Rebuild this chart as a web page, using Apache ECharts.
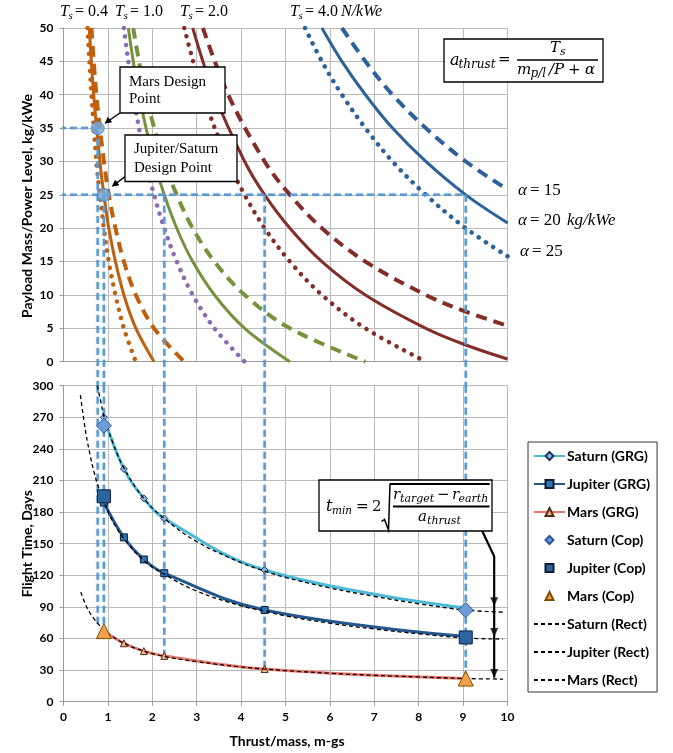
<!DOCTYPE html>
<html><head><meta charset="utf-8">
<script src="https://cdn.jsdelivr.net/npm/echarts@6/dist/echarts.min.js"></script>
<style>html,body{margin:0;padding:0;background:#fff}#c{width:673px;height:753px}</style>
</head><body><div id="c"></div><script>
// ---------- Top panel: payload mass / power level vs thrust/mass ----------
// [thrust/mass (m-gs), payload mass/power (kg/kWe)]
const ts04_a15 = [[0.63,50],[0.74,40],[0.91,30],[1.02,25],[1.17,20],[1.36,15],[1.63,10],[2.04,5],[2.72,0]];
const ts04_a20 = [[0.58,50],[0.68,40],[0.82,30],[0.91,25],[1.02,20],[1.17,15],[1.36,10],[1.63,5],[2.04,0]];
const ts04_a25 = [[0.54,50],[0.63,40],[0.74,30],[0.82,25],[0.91,20],[1.02,15],[1.17,10],[1.36,5],[1.63,0]];
const ts10_a15 = [[1.57,50],[1.85,40],[2.27,30],[2.55,25],[2.91,20],[3.40,15],[4.08,10],[5.10,5],[6.80,0]];
const ts10_a20 = [[1.46,50],[1.70,40],[2.04,30],[2.27,25],[2.55,20],[2.91,15],[3.40,10],[4.08,5],[5.10,0]];
const ts10_a25 = [[1.36,50],[1.57,40],[1.85,30],[2.04,25],[2.27,20],[2.55,15],[2.91,10],[3.40,5],[4.08,0]];
const ts20_a15 = [[3.14,50],[3.71,40],[4.53,30],[5.10,25],[5.82,20],[6.80,15],[8.16,10],[9.06,7.5],[10,5.4]];
const ts20_a20 = [[2.91,50],[3.40,40],[4.08,30],[4.53,25],[5.10,20],[5.82,15],[6.80,10],[8.16,5],[9.06,2.5],[10,0.4]];
const ts20_a25 = [[2.72,50],[3.14,40],[3.71,30],[4.08,25],[4.53,20],[5.10,15],[5.82,10],[6.80,5],[8.16,0]];
const ts40_a15 = [[6.27,50],[6.80,45],[7.41,40],[8.16,35],[9.06,30],[10,25.8]];
const ts40_a20 = [[5.82,50],[6.27,45],[6.80,40],[7.41,35],[8.16,30],[9.06,25],[10,20.8]];
const ts40_a25 = [[5.44,50],[5.82,45],[6.27,40],[6.80,35],[7.41,30],[8.16,25],[9.06,20],[10,15.8]];

// design points & guide lines
const designPoints = [[0.77,35],[0.91,25]];
const guideX = [0.77, 0.91, 2.27, 4.53, 9.06];
const guideTopY = [35, 25, 25, 25, 25];
const guideBottomY = [73, 67, 43.5, 31, 22];
const guideH35 = [[-0.1,35],[0.77,35]];
const guideH25 = [[-0.1,25],[9.06,25]];

// ---------- Bottom panel: flight time (days) ----------
const saturnGRG  = [[0.91,270],[1.36,221],[1.81,193],[2.27,174],[4.53,125],[9.06,89]];
const jupiterGRG = [[0.91,189],[1.36,156],[1.81,135],[2.27,122],[4.53,87],[9.06,62]];
const marsGRG    = [[0.91,67],[1.36,55.5],[1.81,48],[2.27,43.5],[4.53,31],[9.06,22]];
const saturnCop  = [[0.91,262],[9.06,87]];
const jupiterCop = [[0.91,195],[9.06,61]];
const marsCop    = [[0.91,67],[9.06,22]];
const saturnRect  = [[0.76,300],[0.85,283],[0.91,271],[1.1,247],[1.36,222],[1.81,193],[2.27,174],[3,152],[4,132],[4.53,124],[5,118],[6,108],[7,100],[8,93],[9.06,87],[9.9,85]];
const jupiterRect = [[0.38,291],[0.5,256],[0.6,234],[0.7,216],[0.8,202],[0.91,190],[1.1,172],[1.36,155],[1.81,134],[2.27,121],[3,105],[4,91],[4.53,86],[5,81.5],[6,74.5],[7,69],[8,64.5],[9.06,60.5],[9.9,59.5]];
const marsRect    = [[0.39,104],[0.5,92],[0.6,84],[0.7,78],[0.8,73],[0.91,68],[1.1,62],[1.36,55.5],[1.81,48],[2.27,43],[3,38],[4,33],[4.53,31],[5,29.5],[6,27],[7,25],[8,23.5],[9.06,22],[9.9,21.5]];
const arrowLine = [[9.42,163],[9.70,138],[9.70,23]];
const arrowTips = [[9.70,90.5],[9.70,61.5],[9.70,22.5]];

const xTicks = [0,1,2,3,4,5,6,7,8,9,10];
const legendNames = ['Saturn (GRG)','Jupiter (GRG)','Mars (GRG)','Saturn (Cop)','Jupiter (Cop)','Mars (Cop)','Saturn (Rect)','Jupiter (Rect)','Mars (Rect)'];

// ---------- styling ----------
const C_OR = '#C0600E', C_GR = '#76923C', C_PU = '#8A6DB0', C_BR = '#832D29', C_BL = '#2C6199', C_GUIDE = '#5B9BD5';
const LS = {
  solid:  {type:'solid', width:3},
  dashed: {type:[11,7], width:4},
  dotted: {type:[0.1,8.5], width:4.5, cap:'round'}
};
function curve(name, data, color, st){
  return {name, type:'line', xAxisIndex:0, yAxisIndex:0, data, smooth:0.35, symbol:'none',
    lineStyle:Object.assign({color}, LS[st]), z:2, silent:true, animation:false};
}
function guide(name, data, grid, clip){
  return {name, type:'line', xAxisIndex:grid, yAxisIndex:grid, data, symbol:'none', clip:clip,
    lineStyle:{color:C_GUIDE, width:2.5, type:[7,4], shadowColor:'rgba(80,120,170,0.35)', shadowBlur:2},
    z:4, silent:true, animation:false};
}
const series = [
  curve('ts04_a15', ts04_a15, C_OR, 'dashed'),
  curve('ts04_a20', ts04_a20, C_OR, 'solid'),
  curve('ts04_a25', ts04_a25, C_OR, 'dotted'),
  curve('ts10_a15', ts10_a15, C_GR, 'dashed'),
  curve('ts10_a20', ts10_a20, C_GR, 'solid'),
  curve('ts10_a25', ts10_a25, C_PU, 'dotted'),
  curve('ts20_a15', ts20_a15, C_BR, 'dashed'),
  curve('ts20_a20', ts20_a20, C_BR, 'solid'),
  curve('ts20_a25', ts20_a25, C_BR, 'dotted'),
  curve('ts40_a15', ts40_a15, C_BL, 'dashed'),
  curve('ts40_a20', ts40_a20, C_BL, 'solid'),
  curve('ts40_a25', ts40_a25, C_BL, 'dotted'),
  guide('h35', guideH35, 0, false),
  guide('h25', guideH25, 0, false)
];
guideX.forEach((gx,i)=>{
  series.push(guide('vt'+i, [[gx,guideTopY[i]],[gx,-3.7]], 0, false));
  series.push(guide('vb'+i, [[gx,300],[gx,guideBottomY[i]]], 1, true));
});
series.push({name:'design', type:'scatter', xAxisIndex:0, yAxisIndex:0, data:designPoints, symbolSize:13,
  itemStyle:{color:'#72A9DE', borderColor:'#4A7EBB', borderWidth:1}, z:8, silent:true});

function grg(name, data, lineColor, sym, fill, border){
  return {name, type:'line', xAxisIndex:1, yAxisIndex:1, data, smooth:0.4, symbol:sym, symbolSize:7,
    showAllSymbol:true, lineStyle:{color:lineColor, width:3},
    itemStyle:{color:fill, borderColor:border, borderWidth:1}, z:5, animation:false};
}
// Cop points: line series with an invisible line, so the legend icon is a centred symbol
function cop(name, data, sym, size, fill, border){
  return {name, type:'line', xAxisIndex:1, yAxisIndex:1, data, symbol:sym, symbolSize:size, showAllSymbol:true,
    lineStyle:{width:0, opacity:0}, itemStyle:{color:fill, borderColor:border, borderWidth:1}, z:7, animation:false};
}
function rect(name, data){
  return {name, type:'line', xAxisIndex:1, yAxisIndex:1, data, smooth:0.4, symbol:'none',
    lineStyle:{color:'#000', width:1.3, type:[4,3]}, itemStyle:{color:'rgba(0,0,0,0)', borderWidth:0}, z:6, animation:false};
}
series.push(
  grg('Saturn (GRG)', saturnGRG, '#4CB9D6', 'diamond', '#8DB4E2', '#1F3864'),
  grg('Jupiter (GRG)', jupiterGRG, '#25578F', 'rect', '#2E75B6', '#0B1A33'),
  grg('Mars (GRG)', marsGRG, '#E8786C', 'triangle', '#F4B183', '#5A2A1A'),
  cop('Saturn (Cop)', saturnCop, 'diamond', 15, '#6A9FD9', '#2F5597'),
  cop('Jupiter (Cop)', jupiterCop, 'rect', 13, '#2E64A2', '#0D1F3C'),
  cop('Mars (Cop)', marsCop, 'triangle', 15, '#F5A04A', '#7F4F00'),
  rect('Saturn (Rect)', saturnRect),
  rect('Jupiter (Rect)', jupiterRect),
  rect('Mars (Rect)', marsRect),
  {name:'arrow', type:'line', xAxisIndex:1, yAxisIndex:1, data:arrowLine, symbol:'none',
    lineStyle:{color:'#000', width:2.2}, z:9, silent:true, animation:false},
  {name:'arrowTips', type:'scatter', xAxisIndex:1, yAxisIndex:1, data:arrowTips,
    symbol:'path://M0,0L10,0L5,10Z', symbolSize:[8,9], symbolOffset:[0,'-50%'],
    itemStyle:{color:'#000'}, z:9, silent:true}
);

const lab = {fontFamily:'Lato', fontWeight:'bold', fontSize:12, color:'#000'};
const axisLine = {show:true, lineStyle:{color:'#9A9A9A', width:1}};
const split = {show:true, lineStyle:{color:'#BBBBBB', width:1}};

// ---------- graphic annotations ----------
const SERIF = '"Liberation Serif", "DejaVu Serif", serif';
const MATH = '"DejaVu Serif", serif';
const g = [];
function t(x, y, text, size, italic, fam){
  g.push({type:'text', x, y, z:100, silent:true, style:{text, font:(italic?'italic ':'')+size+'px '+(fam||SERIF),
    fill:'#000', align:'left', textAlign:'left', verticalAlign:'middle', textVerticalAlign:'middle'}});
}
function m(x, y, text, size, italic){ t(x, y, text, size, italic, MATH); }
function box(x,y,w,h){ g.push({type:'rect', z:99, silent:true, shape:{x,y,width:w,height:h}, style:{fill:'#fff', stroke:'#000', lineWidth:1.3}}); }
function ln(pts, w){ g.push({type:'polyline', z:101, silent:true, shape:{points:pts}, style:{stroke:'#000', lineWidth:w, fill:null}}); }
function tri(pts){ g.push({type:'polygon', z:101, silent:true, shape:{points:pts}, style:{fill:'#000'}}); }

// Ts labels at top
[[60,'0.4'],[115,'1.0'],[180,'2.0'],[290,'4.0']].forEach(([x,v])=>{
  t(x, 12, 'T', 16, true); t(x+8.5, 16, 's', 11, true); t(x+15, 12, '= '+v, 16, false);
});
t(341, 12, 'N/kWe', 16, true);
// alpha labels
t(518, 191, 'α', 17, true); t(530, 191, '= 15', 17, false);
t(518, 221, 'α', 17, true); t(530, 221, '= 20', 17, false); t(567, 221, 'kg/kWe', 17, true);
t(520, 252, 'α', 17, true); t(532, 252, '= 25', 17, false);
// formula a_thrust
box(444, 39, 159, 43);
m(450, 61, 'a', 16, true); m(458.5, 65, 'thrust', 12, true); m(498, 60, '=', 15, false);
ln([[517,60],[598,60]], 1.6);
m(550, 48, 'T', 15, true); m(560, 52, 's', 11, true);
m(517, 70, 'm', 15, true); m(530.5, 74, 'p/l', 12, true); m(549, 70, '/P', 15, true); m(568, 70, '+', 15, false); m(585, 70, 'α', 15, true);
// design point boxes
box(120, 67, 105, 46); t(129, 82, 'Mars Design', 15, false); t(129, 99.5, 'Point', 15, false);
ln([[120,113],[109,120.5]], 1.5); tri([[104.5,123.8],[112.1,122.3],[107.9,116.7]]);
box(125, 135, 112, 46.5); t(134, 149.5, 'Jupiter/Saturn', 15, false); t(134, 168, 'Design Point', 15, false);
ln([[125,176.7],[116.5,183]], 1.5); tri([[111.7,186.7],[119.4,185.3],[115.2,179.7]]);
// formula t_min
box(319, 480, 173, 51);
m(326, 507, 't', 16, true); m(332, 511, 'min', 10.5, true); m(356, 507, '=', 15, false); m(372, 507, '2', 15, false);
ln([[381.5,521.5],[384.5,519.5],[388.5,530],[390,484],[489.5,484]], 1.5);
ln([[390,484],[489.5,484]], 2.2);
m(393, 495, 'r', 15, true); m(400, 499, 'target', 11, true); m(437, 495, '−', 15, false);
m(452, 495, 'r', 15, true); m(458.5, 499, 'earth', 11, true);
ln([[393,506.5],[489.5,506.5]], 2);
m(418, 517, 'a', 15, true); m(427, 521, 'thrust', 11, true);
// axis titles
const TF = 'bold 14px Lato, "Open Sans", sans-serif';
g.push({type:'text', x:27, y:206, rotation:Math.PI/2, z:100, silent:true, style:{text:'Payload Mass/Power Level, kg/kWe', font:TF, fill:'#000', align:'center', textAlign:'center', verticalAlign:'middle', textVerticalAlign:'middle'}});
g.push({type:'text', x:27, y:543.7, rotation:Math.PI/2, z:100, silent:true, style:{text:'Flight Time, Days', font:TF, fill:'#000', align:'center', textAlign:'center', verticalAlign:'middle', textVerticalAlign:'middle'}});
g.push({type:'text', x:287, y:741, z:100, silent:true, style:{text:'Thrust/mass, m-gs', font:TF, fill:'#000', align:'center', textAlign:'center', verticalAlign:'middle', textVerticalAlign:'middle'}});

const chart = echarts.init(document.getElementById('c'), null, {renderer:'canvas'});
chart.setOption({
  animation:false,
  backgroundColor:'#fff',
  grid:[{left:63.5, top:28, width:444, height:333.7}, {left:63.5, top:385.7, width:444, height:316}],
  xAxis:[
    {gridIndex:0, type:'value', min:0, max:10, interval:1, axisLabel:{show:false}, axisTick:{show:false}, axisLine, splitLine:split},
    {gridIndex:1, type:'value', min:0, max:10, interval:1, axisLabel:Object.assign({margin:9, formatter:v=>xTicks.includes(v)?String(v):''}, lab),
      axisTick:{show:true, length:4, lineStyle:{color:'#9A9A9A'}}, axisLine, splitLine:split}
  ],
  yAxis:[
    {gridIndex:0, type:'value', min:0, max:50, interval:5, axisLabel:Object.assign({margin:10}, lab), axisTick:{show:true, length:4, lineStyle:{color:'#9A9A9A'}}, axisLine, splitLine:split},
    {gridIndex:1, type:'value', min:0, max:300, interval:30, axisLabel:Object.assign({margin:10}, lab), axisTick:{show:true, length:4, lineStyle:{color:'#9A9A9A'}}, axisLine, splitLine:split}
  ],
  legend:{data:legendNames, orient:'vertical', left:528, top:442, itemWidth:31, itemHeight:10, itemGap:14,
    padding:[7,7,5,5], borderColor:'#333', borderWidth:1, backgroundColor:'#fff', selectedMode:false,
    textStyle:{fontFamily:'Lato', fontWeight:'bold', fontSize:14, lineHeight:14, color:'#000', padding:[0,0,0,-3]}},
  series,
  graphic:g
});
</script></body></html>
